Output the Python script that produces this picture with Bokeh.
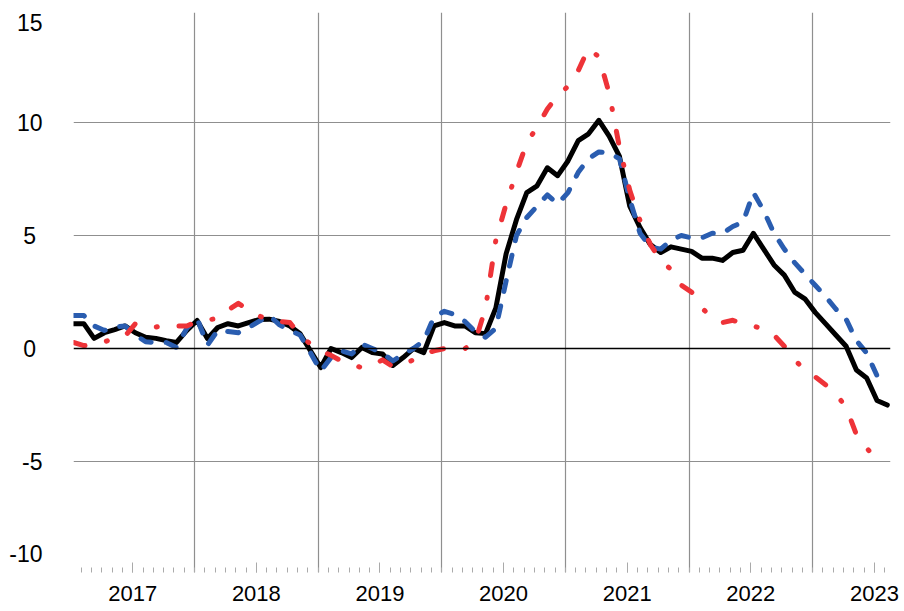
from bokeh.plotting import figure
from bokeh.models import FixedTicker, Range1d, Span
from bokeh.embed import file_html
from bokeh.resources import INLINE

# ---- data (monthly, starting Jan 2017) ----
start_year = 2017
black = [1.1, 1.1, 0.45, 0.7, 0.84, 1.0, 0.7, 0.5, 0.45, 0.35, 0.27, 0.8,
         1.24, 0.44, 0.93, 1.1, 1.0, 1.15, 1.28, 1.3, 1.2, 1.0, 0.65, -0.1,
         -0.84, 0.0, -0.18, -0.4, 0.05, -0.18, -0.24, -0.75, -0.4, 0.0, -0.18, 1.0,
         1.15, 1.0, 1.0, 0.7, 0.66, 1.8, 4.2, 5.7, 6.9, 7.2, 8.0, 7.65,
         8.3, 9.2, 9.5, 10.1, 9.4, 8.5, 6.3, 5.35, 4.6, 4.25, 4.5, 4.4,
         4.3, 4.0, 4.0, 3.9, 4.25, 4.35, 5.1, 4.4, 3.7, 3.25, 2.5, 2.2,
         1.6, 1.1, 0.6, 0.1, -0.95, -1.3, -2.3, -2.5]
blue = [1.46, 1.46, 1.0, 0.8, 0.95, 1.0, 0.6, 0.3, 0.27, 0.27, 0.05, 0.9,
        1.33, 0.15, 0.8, 0.75, 0.7, 0.93, 1.2, 1.46, 1.05, 0.8, 0.6, -0.18,
        -1.0, -0.4, -0.1, -0.24, 0.2, 0.0, -0.2, -0.55, -0.25, 0.0, 0.35, 1.4,
        1.65, 1.5, 1.2, 0.75, 0.5, 0.9, 3.0, 5.0, 5.8, 6.3, 6.8, 6.4,
        6.9, 7.8, 8.4, 8.7, 8.65, 8.4, 6.6, 5.1, 4.5, 4.4, 4.8, 5.0,
        4.9, 4.9, 5.1, 5.1, 5.4, 5.6, 6.9, 6.1, 5.1, 4.4, 3.8, 3.3,
        2.8, 2.3, 1.75, 1.3, 0.35, -0.2, -1.2, -1.3]
red = [0.27, 0.13, 0.15, 0.3, 0.45, 0.55, 1.1, 0.95, 0.95, 1.05, 1.0, 1.0,
       1.2, 1.25, 1.35, 1.7, 2.0, 1.7, 1.45, 1.24, 1.2, 1.15, 0.57, 0.2,
       -0.1, -0.3, -0.55, -0.7, -0.85, -0.75, -0.5, -0.8, -0.7, -0.5, -0.25, -0.1,
       0.0, 0.0, 0.0, 0.3, 1.8, 4.8, 6.4, 7.8, 9.1, 9.8, 10.6, 11.2,
       11.6, 12.3, 13.3, 12.9, 11.3, 8.9, 7.0, 5.66, 4.6, 3.9, 3.5, 2.8,
       2.5, 1.8, 1.35, 1.15, 1.25, 1.1, 1.0, 0.85, 0.6, 0.1, -0.5, -0.95,
       -1.25, -1.6, -2.0, -2.6, -3.8, -4.4, -4.95]

year_labels = ["2017", "2018", "2019", "2020", "2021", "2022", "2023"]
y_labels = ["15", "10", "5\u00a0", "0\u00a0", "-5", "-10"]
y_label_pos = [14.42, 10, 5, 0, -5, -9.07]


def month_x(n):
    return [start_year + (m + 0.25) / 12 for m in range(n)]


p = figure(frame_width=817, frame_height=560, output_backend="svg",
           toolbar_location=None,
           x_range=Range1d(2017.0208, 2023.63), y_range=Range1d(-9.91, 14.87),
           min_border_left=73, min_border_right=12, min_border_top=12,
           min_border_bottom=38)
p.outline_line_color = None
p.background_fill_color = "white"

# grids
p.xgrid.ticker = FixedTicker(ticks=[2018, 2019, 2020, 2021, 2022, 2023])
p.ygrid.ticker = FixedTicker(ticks=[10, 5, -5])
for g in (p.xgrid[0], p.ygrid[0]):
    g.grid_line_color = "#8f8f8f"
    g.grid_line_width = 1.2
p.add_layout(Span(location=0, dimension="width", line_color="black", line_width=1.4))

# x axis
mid_years = [int(y) + 0.5 for y in year_labels]
minor = [start_year + k / 12 for k in range(1, 80)]
xa = p.xaxis[0]
xa.ticker = FixedTicker(ticks=mid_years, minor_ticks=minor)
xa.major_label_overrides = {t: lab for t, lab in zip(mid_years, year_labels)}
xa.axis_line_color = None
xa.major_tick_in = 10
xa.major_tick_out = 0
xa.minor_tick_in = 5
xa.minor_tick_out = 0
xa.major_tick_line_color = "#aaaaaa"
xa.minor_tick_line_color = "#aaaaaa"
xa.major_label_standoff = 13
xa.major_label_text_font = "Liberation Sans"
xa.major_label_text_font_size = "22px"
xa.major_label_text_color = "black"

# y axis
ya = p.yaxis[0]
ya.ticker = FixedTicker(ticks=y_label_pos)
ya.major_label_overrides = {t: lab for t, lab in zip(y_label_pos, y_labels)}
ya.axis_line_color = None
ya.major_tick_in = 0
ya.major_tick_out = 0
ya.minor_tick_line_color = None
ya.major_label_standoff = 31
ya.major_label_text_font = "Liberation Sans"
ya.major_label_text_font_size = "23px"
ya.major_label_text_color = "black"

# series
p.line(month_x(len(black)), black, line_color="black", line_width=5,
       line_join="round", line_cap="round")
p.line(month_x(len(blue)), blue, line_color="#2a5db0", line_width=5,
       line_dash="11 15", line_join="round", line_cap="round")
p.line(month_x(len(red)), red, line_color="#ee3338", line_width=5,
       line_dash="12 22 1 22", line_join="round", line_cap="round")

open("out.html", "w").write(file_html(p, INLINE))
